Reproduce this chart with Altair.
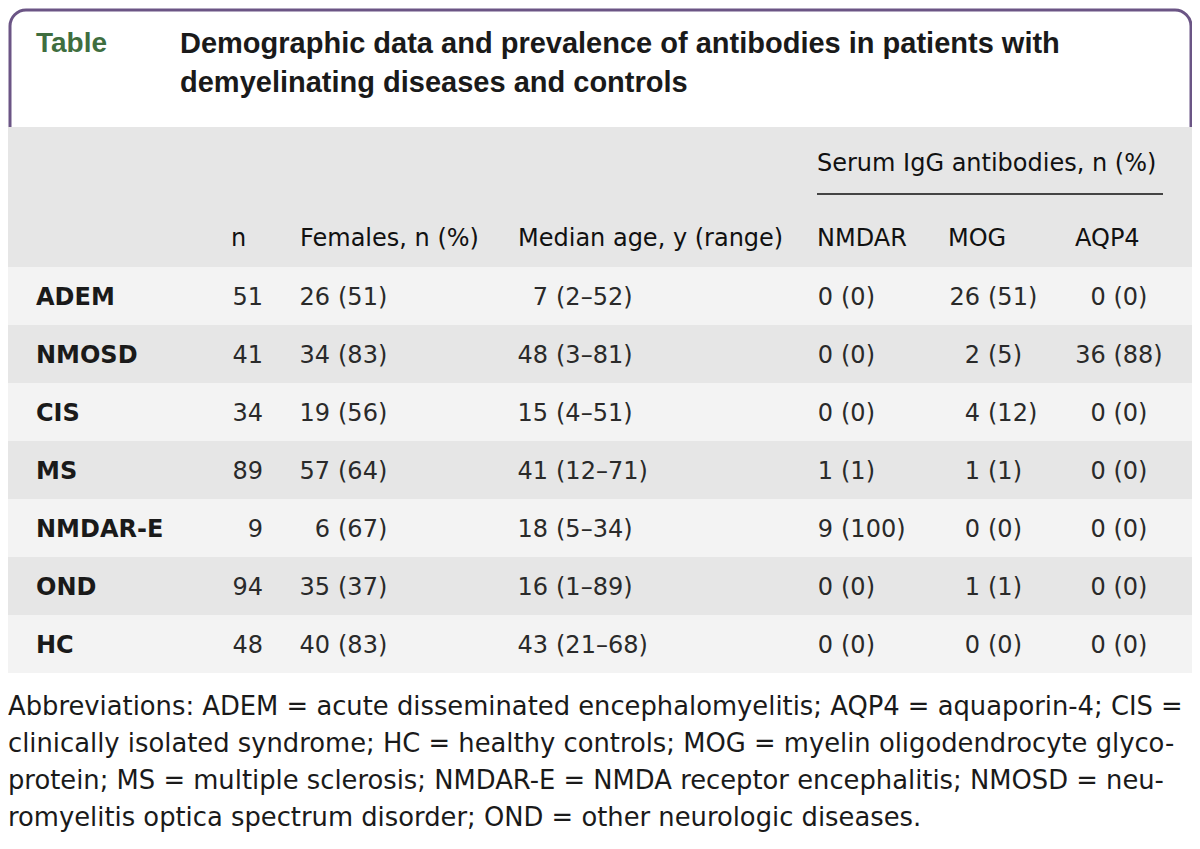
import altair as alt
import pandas as pd

# ---------------- data ----------------
groups = ["ADEM", "NMOSD", "CIS", "MS", "NMDAR-E", "OND", "HC"]
n_total = [51, 41, 34, 89, 9, 94, 48]
females_n = [26, 34, 19, 57, 6, 35, 40]
females_pct = [51, 83, 56, 64, 67, 37, 83]
age_median = [7, 48, 15, 41, 18, 16, 43]
age_min = [2, 3, 4, 12, 5, 1, 21]
age_max = [52, 81, 51, 71, 34, 89, 68]
nmdar_n = [0, 0, 0, 1, 9, 0, 0]
nmdar_pct = [0, 0, 0, 1, 100, 0, 0]
mog_n = [26, 2, 4, 1, 0, 1, 0]
mog_pct = [51, 5, 12, 1, 0, 1, 0]
aqp4_n = [0, 36, 0, 0, 0, 0, 0]
aqp4_pct = [0, 88, 0, 0, 0, 0, 0]

table_label = "Table"
title_lines = [
    "Demographic data and prevalence of antibodies in patients with",
    "demyelinating diseases and controls",
]
col_headers = ["n", "Females, n (%)", "Median age, y (range)", "NMDAR", "MOG", "AQP4"]
span_header = "Serum IgG antibodies, n (%)"
footnote_lines = [
    "Abbreviations: ADEM = acute disseminated encephalomyelitis; AQP4 = aquaporin-4; CIS =",
    "clinically isolated syndrome; HC = healthy controls; MOG = myelin oligodendrocyte glyco-",
    "protein; MS = multiple sclerosis; NMDAR-E = NMDA receptor encephalitis; NMOSD = neu-",
    "romyelitis optica spectrum disorder; OND = other neurologic diseases.",
]

# ---------------- layout (reference pixel frame) ----------------
W, H = 1184, 833
X0, Y0 = 8, 8
FONT = "DejaVu Sans"
TFONT = "Liberation Sans"
BODY = 24
DY = 2
ROW0, ROW_H = 296, 58
HEAD_TOP, HEAD_BOT = 127, 267
COL_HEAD_Y, SPAN_Y, SPAN_RULE_Y = 237, 162, 194
LABEL_X = 36
N_RIGHT = 263
FEM_SPLIT = 330
AGE_SPLIT = 548
NMDAR_SPLIT = 833
MOG_SPLIT = 980
AQP4_CENTER = 1119
GAP = 8
HEAD_X = [231, 300, 518, 817, 948, 1075]
SPAN_X0, SPAN_X1 = 817, 1163
TITLE_Y0, TITLE_DY = 42, 39
FOOT_X, FOOT_Y0, FOOT_DY = 8, 705, 37

xs = alt.Scale(domain=[X0, X0 + W], range=[0, W])
ys = alt.Scale(domain=[Y0, Y0 + H], range=[0, H])


def row_y(i):
    return ROW0 + i * ROW_H


def text_layer(df, align, size, weight="normal", color="#222222", font=FONT):
    return alt.Chart(df).mark_text(
        align=align, baseline="middle", fontSize=size, fontWeight=weight,
        color=color, font=font, dy=DY,
    ).encode(
        x=alt.X("x:Q", scale=xs, axis=None),
        y=alt.Y("y:Q", scale=ys, axis=None),
        text="t:N",
    )


# ---------------- backgrounds ----------------
bands = [{"y": HEAD_TOP, "y2": HEAD_BOT, "c": "#e6e6e6"}]
for i in range(len(groups)):
    top = HEAD_BOT + i * ROW_H
    bands.append({"y": top, "y2": top + ROW_H,
                  "c": "#f3f3f3" if i % 2 == 0 else "#e6e6e6"})
bands_df = pd.DataFrame(bands)
band_layer = alt.Chart(bands_df).mark_rect().encode(
    x=alt.value(0), x2=alt.value(W),
    y=alt.Y("y:Q", scale=ys, axis=None), y2="y2:Q",
    color=alt.Color("c:N", scale=None),
)

border_df = pd.DataFrame([{"x": 10, "x2": 1191, "y": 10, "y2": 200}])
border_layer = alt.Chart(border_df).mark_rect(
    cornerRadius=16, stroke="#6b5585", strokeWidth=3, fill="white"
).encode(
    x=alt.X("x:Q", scale=xs, axis=None), x2="x2:Q",
    y=alt.Y("y:Q", scale=ys, axis=None), y2="y2:Q",
)

rule_df = pd.DataFrame([{"x": SPAN_X0, "x2": SPAN_X1, "y": SPAN_RULE_Y}])
rule_layer = alt.Chart(rule_df).mark_rule(color="#444444", strokeWidth=2).encode(
    x=alt.X("x:Q", scale=xs, axis=None), x2="x2:Q",
    y=alt.Y("y:Q", scale=ys, axis=None),
)

# ---------------- texts ----------------
title_label_df = pd.DataFrame([{"x": 36, "y": TITLE_Y0, "t": table_label}])
title_df = pd.DataFrame([{"x": 180, "y": TITLE_Y0 + TITLE_DY * k, "t": s}
                         for k, s in enumerate(title_lines)])

head_df = pd.DataFrame(
    [{"x": HEAD_X[k], "y": COL_HEAD_Y, "t": h} for k, h in enumerate(col_headers)]
    + [{"x": SPAN_X0, "y": SPAN_Y, "t": span_header}]
)

label_df = pd.DataFrame([{"x": LABEL_X, "y": row_y(i), "t": g} for i, g in enumerate(groups)])

right_rows, left_rows, center_rows = [], [], []
for i in range(len(groups)):
    y = row_y(i)
    right_rows.append({"x": N_RIGHT, "y": y, "t": str(n_total[i])})
    right_rows.append({"x": FEM_SPLIT, "y": y, "t": str(females_n[i])})
    left_rows.append({"x": FEM_SPLIT + GAP, "y": y, "t": f"({females_pct[i]})"})
    right_rows.append({"x": AGE_SPLIT, "y": y, "t": str(age_median[i])})
    left_rows.append({"x": AGE_SPLIT + GAP, "y": y, "t": f"({age_min[i]}\u2013{age_max[i]})"})
    right_rows.append({"x": NMDAR_SPLIT, "y": y, "t": str(nmdar_n[i])})
    left_rows.append({"x": NMDAR_SPLIT + GAP, "y": y, "t": f"({nmdar_pct[i]})"})
    right_rows.append({"x": MOG_SPLIT, "y": y, "t": str(mog_n[i])})
    left_rows.append({"x": MOG_SPLIT + GAP, "y": y, "t": f"({mog_pct[i]})"})
    center_rows.append({"x": AQP4_CENTER, "y": y, "t": f"{aqp4_n[i]} ({aqp4_pct[i]})"})

foot_df = pd.DataFrame([{"x": FOOT_X, "y": FOOT_Y0 + FOOT_DY * k, "t": s}
                        for k, s in enumerate(footnote_lines)])

layers = [
    border_layer,
    band_layer,
    rule_layer,
    text_layer(title_label_df, "left", 28, "bold", color="#3f6e3f", font=TFONT),
    text_layer(title_df, "left", 29, "bold", color="#1a1a1a", font=TFONT),
    text_layer(head_df, "left", BODY, "normal", color="#111111"),
    text_layer(label_df, "left", BODY, "bold", color="#1a1a1a"),
    text_layer(pd.DataFrame(right_rows), "right", BODY, "normal", color="#2a2a2a"),
    text_layer(pd.DataFrame(left_rows), "left", BODY, "normal", color="#2a2a2a"),
    text_layer(pd.DataFrame(center_rows), "center", BODY, "normal", color="#2a2a2a"),
    text_layer(foot_df, "left", 25.8, "normal", color="#1a1a1a"),
]

chart = alt.layer(*layers).properties(
    width=W, height=H, padding=0, autosize=alt.AutoSizeParams(type="none"),
    background="white",
).configure_view(stroke=None)

chart.save("out.html", embed_options={"renderer": "svg", "actions": False})
